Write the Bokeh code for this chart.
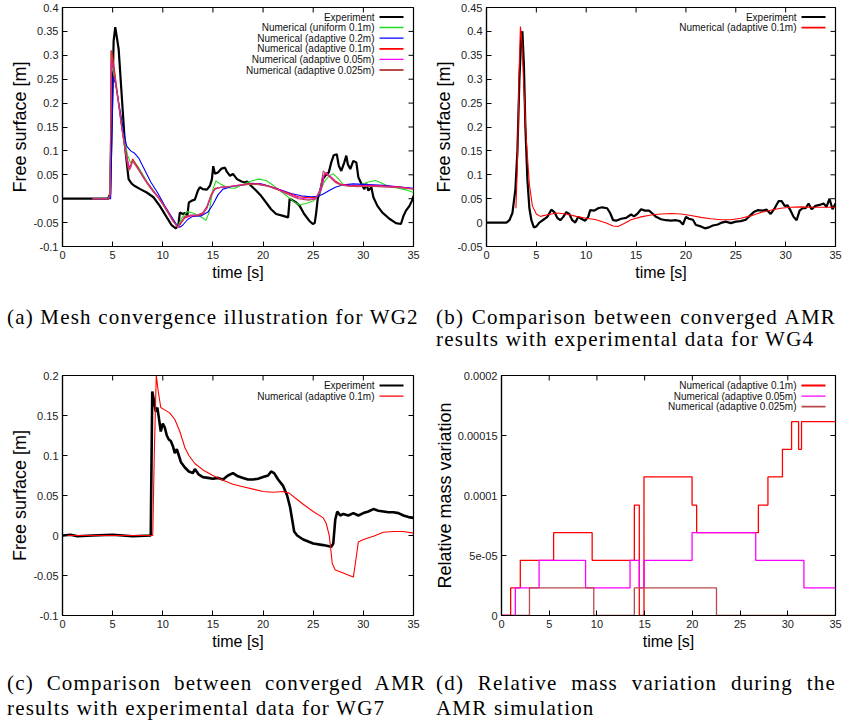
from bokeh.plotting import figure
from bokeh.models import Label, FixedTicker, Div, Range1d
from bokeh.layouts import column, row
from bokeh.embed import file_html
from bokeh.resources import INLINE

FONT = "Liberation Sans"
SERIF = "Liberation Serif"

# ---------------- data ----------------
time_ticks = [0, 5, 10, 15, 20, 25, 30, 35]

# (a) WG2 mesh convergence
a_yticks = [-0.1, -0.05, 0, 0.05, 0.1, 0.15, 0.2, 0.25, 0.3, 0.35, 0.4]
a_ylabels = ["-0.1", "-0.05", "0", "0.05", "0.1", "0.15", "0.2", "0.25", "0.3", "0.35", "0.4"]
a_exp_t = [0, 4.55, 4.75, 4.95, 5.1, 5.26, 5.6, 5.93, 6.26, 6.59, 6.92, 7.25, 7.75, 8.4, 9.07, 9.7,
           10.4, 10.9, 11.3, 11.55, 11.7, 12.0, 12.2, 12.45, 12.6, 12.9, 13.2, 13.5, 13.7, 14.0, 14.4,
           14.7, 14.9, 15.03, 15.2, 15.5, 15.86, 16.2, 16.4, 16.7, 17.0, 17.4, 17.85, 18.2, 18.4, 18.8,
           19.3, 19.8, 20.3, 20.8, 21.3, 22.0, 22.5, 22.65, 23.0, 23.3, 23.65, 24.1, 24.6, 24.96, 25.15,
           25.3, 25.45, 25.7, 25.96, 26.2, 26.55, 26.8, 27.05, 27.35, 27.55, 27.8, 28.1, 28.3, 28.45,
           28.7, 29.0, 29.3, 29.5, 29.9, 30.1, 30.3, 30.5, 30.8, 31.0, 31.4, 31.9, 32.6, 33.25, 33.75,
           34.0, 34.25, 34.6, 34.85, 35.0]
a_exp_y = [0, 0, 0.01, 0.2, 0.33, 0.359, 0.313, 0.208, 0.104, 0.041, 0.031, 0.026, 0.02, 0.013, 0.003,
           -0.015, -0.039, -0.056, -0.062, -0.056, -0.029, -0.032, -0.03, -0.035, -0.008, -0.004, -0.002,
           0.017, 0.024, 0.02, 0.019, 0.027, 0.041, 0.068, 0.052, 0.055, 0.063, 0.065, 0.056, 0.048, 0.052,
           0.041, 0.036, 0.034, 0.036, 0.027, 0.017, 0.006, -0.008, -0.022, -0.032, -0.036, -0.039, 0.0,
           -0.004, -0.008, -0.015, -0.032, -0.046, -0.053, -0.051, -0.029, 0.0, 0.017, 0.041, 0.048, 0.055,
           0.076, 0.091, 0.093, 0.069, 0.058, 0.076, 0.09, 0.072, 0.062, 0.079, 0.076, 0.045, 0.027, 0.02,
           0.031, 0.017, 0.024, 0.003, -0.015, -0.029, -0.042, -0.051, -0.053, -0.036, -0.025, -0.015,
           -0.004, 0.006]
a_uni01_t = [3.0, 4.7, 4.9, 5.3, 6.0, 6.5, 6.8, 7.1, 7.6, 8.5, 9.5, 10.5, 11.5, 11.9, 12.4, 13.0, 13.6,
             14.3, 14.6, 15.0, 15.3, 15.8, 16.5, 17.2, 18.0, 19.0, 19.6, 20.3, 21.0, 22.0, 23.0, 23.6,
             24.3, 25.0, 25.6, 26.1, 26.6, 27.0, 27.5, 28.0, 28.8, 29.5, 30.5, 31.2, 31.8, 32.5, 33.5,
             34.3, 35.0]
a_uni01_y = [0, 0, 0.28, 0.24, 0.14, 0.09, 0.075, 0.08, 0.065, 0.033, 0.005, -0.028, -0.058, -0.04,
             -0.027, -0.03, -0.035, -0.045, -0.03, 0.02, 0.037, 0.03, 0.023, 0.022, 0.03, 0.038, 0.041,
             0.038, 0.028, 0.012, -0.005, -0.013, -0.01, -0.005, 0.01, 0.035, 0.048, 0.052, 0.042, 0.03,
             0.026, 0.028, 0.035, 0.038, 0.033, 0.026, 0.022, 0.018, 0.013]
a_ad02_t = [3.0, 4.8, 5.05, 5.3, 5.7, 6.1, 6.4, 6.8, 7.2, 7.6, 8.2, 8.8, 9.5, 10.2, 10.8, 11.3, 11.7,
            12.0, 12.5, 13.0, 13.8, 14.5, 15.0, 15.5, 16.0, 16.8, 17.8, 18.8, 19.8, 20.8, 21.8, 22.8,
            23.8, 24.8, 25.5, 26.0, 26.6, 27.2, 28.0, 29.0, 30.0, 31.0, 32.0, 33.0, 34.0, 35.0]
a_ad02_y = [0, 0, 0.255, 0.24, 0.19, 0.14, 0.11, 0.1, 0.095, 0.085, 0.06, 0.035, 0.012, -0.015, -0.035,
            -0.052, -0.06, -0.055, -0.043, -0.037, -0.036, -0.028, -0.012, 0.008, 0.02, 0.025, 0.028,
            0.032, 0.031, 0.025, 0.018, 0.011, 0.006, 0.004, 0.005, 0.01, 0.017, 0.024, 0.029, 0.031,
            0.03, 0.029, 0.028, 0.026, 0.024, 0.022]
a_ad01_t = [3.0, 4.6, 4.75, 4.85, 5.0, 5.3, 5.6, 5.9, 6.2, 6.45, 6.65, 6.8, 7.0, 7.2, 7.5, 8.0, 8.5,
            9.0, 9.5, 10.0, 10.5, 11.0, 11.5, 11.8, 12.2, 12.8, 13.5, 14.0, 14.4, 14.8, 15.2, 15.8,
            16.5, 17.5, 18.5, 19.5, 20.5, 21.5, 22.5, 23.5, 24.5, 25.3, 25.8, 26.1, 26.3, 26.8, 27.2,
            27.8, 28.5, 29.5, 30.5, 31.5, 32.5, 33.5, 34.5, 35.0]
a_ad01_y = [0, 0, 0.01, 0.31, 0.3, 0.25, 0.2, 0.15, 0.11, 0.085, 0.065, 0.07, 0.083, 0.075, 0.066,
            0.048, 0.032, 0.018, 0.005, -0.01, -0.027, -0.045, -0.06, -0.052, -0.04, -0.036, -0.035,
            -0.032, -0.02, 0.005, 0.02, 0.024, 0.025, 0.028, 0.031, 0.031, 0.027, 0.02, 0.012, 0.004,
            0.002, 0.003, 0.02, 0.05, 0.052, 0.045, 0.037, 0.03, 0.028, 0.027, 0.028, 0.027, 0.026,
            0.025, 0.022, 0.021]
a_ad005_t = [3.0, 4.6, 4.75, 4.88, 5.0, 5.3, 5.6, 5.9, 6.2, 6.45, 6.7, 6.85, 7.0, 7.2, 7.5, 8.0, 8.5,
             9.0, 9.5, 10.0, 10.5, 11.0, 11.5, 11.8, 12.2, 12.8, 13.5, 14.0, 14.4, 14.8, 15.2, 15.8,
             16.5, 17.5, 18.5, 19.5, 20.5, 21.5, 22.5, 23.5, 24.5, 25.3, 25.8, 26.1, 26.3, 26.8, 27.2,
             27.8, 28.5, 29.5, 30.5, 31.5, 32.5, 33.5, 34.5, 35.0]
a_ad005_y = [0, 0, 0.01, 0.29, 0.28, 0.24, 0.195, 0.15, 0.11, 0.082, 0.062, 0.068, 0.08, 0.073,
             0.064, 0.047, 0.031, 0.017, 0.004, -0.011, -0.028, -0.046, -0.06, -0.05, -0.038, -0.035,
             -0.034, -0.03, -0.018, 0.006, 0.021, 0.024, 0.025, 0.028, 0.03, 0.03, 0.026, 0.019,
             0.01, 0.002, -0.001, 0.001, 0.02, 0.052, 0.055, 0.044, 0.035, 0.029, 0.027, 0.026,
             0.027, 0.026, 0.025, 0.024, 0.022, 0.021]
a_ad0025_t = [3.0, 4.6, 4.75, 4.85, 5.0, 5.3, 5.6, 5.9, 6.2, 6.4, 6.6, 6.8, 7.0, 7.2, 7.5, 8.0, 8.5,
              9.0, 9.5, 10.0, 10.5, 11.0, 11.5, 11.8, 12.2, 12.8, 13.5, 14.0, 14.4, 14.8, 15.2, 15.8,
              16.5, 17.5, 18.5, 19.5, 20.5, 21.5, 22.5, 23.5, 24.5, 25.2, 25.7, 26.0, 26.3, 26.8, 27.2,
              27.8, 28.5, 29.5, 30.5, 31.5, 32.5, 33.5, 34.5, 35.0]
a_ad0025_y = [0, 0, 0.01, 0.31, 0.29, 0.245, 0.2, 0.15, 0.105, 0.08, 0.058, 0.066, 0.08, 0.072,
              0.063, 0.046, 0.03, 0.016, 0.003, -0.012, -0.029, -0.047, -0.06, -0.05, -0.037, -0.034,
              -0.034, -0.029, -0.016, 0.008, 0.022, 0.024, 0.025, 0.027, 0.03, 0.03, 0.026, 0.018,
              0.009, 0.0, -0.003, -0.001, 0.02, 0.058, 0.052, 0.042, 0.034, 0.028, 0.026, 0.025,
              0.026, 0.025, 0.024, 0.023, 0.021, 0.02]

# (b) WG4
b_yticks = [-0.05, 0, 0.05, 0.1, 0.15, 0.2, 0.25, 0.3, 0.35, 0.4, 0.45]
b_ylabels = ["-0.05", "0", "0.05", "0.1", "0.15", "0.2", "0.25", "0.3", "0.35", "0.4", "0.45"]
b_exp_t = [0, 2.0, 2.3, 2.6, 2.9, 3.1, 3.3, 3.5, 3.6, 3.75, 3.9, 4.1, 4.3, 4.5, 4.75, 5.0, 5.3, 5.7,
           6.1, 6.5, 6.8, 7.1, 7.4, 7.7, 8.0, 8.3, 8.6, 8.9, 9.2, 9.5, 9.9, 10.2, 10.4, 10.8, 11.2, 11.6,
           12.1, 12.4, 12.7, 13.0, 13.5, 14.0, 14.5, 14.8, 15.2, 15.5, 15.9, 16.3, 16.7, 17.0, 17.5,
           18.0, 18.5, 19.0, 19.4, 19.7, 20.0, 20.3, 20.7, 21.0, 21.5, 21.9, 22.3, 22.7, 23.2, 23.6,
           24.0, 24.5, 25.0, 25.5, 26.0, 26.4, 26.8, 27.2, 27.7, 28.1, 28.5, 28.9, 29.3, 29.6, 29.9,
           30.2, 30.5, 30.8, 31.1, 31.4, 31.7, 32.0, 32.3, 32.6, 33.0, 33.4, 33.8, 34.1, 34.4, 34.7, 35.0]
b_exp_y = [0, 0, 0.005, 0.02, 0.07, 0.15, 0.3, 0.395, 0.4, 0.33, 0.2, 0.09, 0.03, 0.005, -0.01, -0.008,
           0.0, 0.006, 0.012, 0.027, 0.022, 0.01, 0.005, 0.012, 0.022, 0.018, 0.005, 0.0, 0.012, 0.008,
           0.004, 0.012, 0.026, 0.025, 0.03, 0.032, 0.03, 0.02, 0.005, 0.004, 0.008, 0.01, 0.017, 0.013,
           0.02, 0.028, 0.025, 0.025, 0.018, 0.012, 0.007, 0.005, 0.004, 0.005, 0.003, -0.004, 0.012,
           0.008, 0.006, -0.005, -0.008, -0.012, -0.01, -0.006, -0.004, 0.0, 0.002, -0.001, 0.002,
           0.003, 0.006, 0.014, 0.022, 0.026, 0.025, 0.027, 0.018, 0.03, 0.045, 0.045, 0.035, 0.036,
           0.025, 0.012, 0.005, 0.025, 0.03, 0.03, 0.04, 0.028, 0.035, 0.037, 0.04, 0.033, 0.05, 0.028,
           0.04]
b_num_t = [2.95, 3.1, 3.25, 3.4, 3.55, 3.75, 4.0, 4.3, 4.6, 5.0, 5.4, 6.0, 7.0, 8.0, 9.0, 10.0, 11.0,
           12.0, 12.7, 13.2, 13.8, 14.5, 15.5, 16.5, 17.5, 18.5, 19.5, 20.5, 21.5, 22.5, 23.5, 24.5,
           25.5, 26.5, 27.5, 28.5, 29.5, 30.5, 31.5, 32.5, 34.0, 35.0]
b_num_y = [0.03, 0.12, 0.3, 0.41, 0.38, 0.28, 0.17, 0.08, 0.035, 0.018, 0.013, 0.016, 0.02, 0.018,
           0.013, 0.009, 0.006, -0.001, -0.007, -0.008, -0.002, 0.006, 0.012, 0.016, 0.018, 0.019,
           0.018, 0.015, 0.011, 0.008, 0.006, 0.006, 0.009, 0.014, 0.021, 0.026, 0.03, 0.032, 0.033,
           0.032, 0.032, 0.032]

# (c) WG7
c_yticks = [-0.1, -0.05, 0, 0.05, 0.1, 0.15, 0.2]
c_ylabels = ["-0.1", "-0.05", "0", "0.05", "0.1", "0.15", "0.2"]
c_exp_t = [0, 0.8, 1.5, 3.0, 5.0, 7.0, 8.8, 8.95, 9.1, 9.3, 9.45, 9.6, 9.8, 10.0, 10.2, 10.4, 10.6,
           10.8, 11.0, 11.2, 11.4, 11.6, 11.8, 12.2, 12.6, 13.0, 13.2, 13.6, 14.0, 14.5, 15.0, 15.5,
           16.0, 16.5, 17.0, 17.5, 18.0, 18.5, 19.0, 19.5, 20.0, 20.5, 20.8, 21.1, 21.5, 22.0, 22.4,
           22.7, 22.9, 23.1, 23.4, 24.0, 25.0, 26.0, 26.8, 27.0, 27.2, 27.4, 27.7, 28.0, 28.5, 29.0,
           29.5, 30.0, 30.5, 31.0, 31.5, 32.0, 32.5, 33.0, 33.5, 34.0, 34.5, 35.0]
c_exp_y = [0, 0.001, -0.001, 0.0, 0.001, -0.001, 0.0, 0.18, 0.17, 0.155, 0.16, 0.148, 0.13, 0.14,
           0.135, 0.125, 0.12, 0.118, 0.112, 0.103, 0.108, 0.1, 0.092, 0.085, 0.08, 0.078, 0.083,
           0.076, 0.073, 0.072, 0.071, 0.072, 0.07, 0.075, 0.078, 0.074, 0.072, 0.07, 0.07, 0.071,
           0.073, 0.075, 0.08, 0.078, 0.07, 0.062, 0.05, 0.035, 0.02, 0.005, 0.0, -0.005, -0.01,
           -0.012, -0.014, -0.01, 0.02, 0.03, 0.025, 0.027, 0.025, 0.028, 0.025, 0.028, 0.03, 0.033,
           0.031, 0.03, 0.029, 0.029, 0.028, 0.025, 0.023, 0.022]
c_num_t = [0, 9.0, 9.15, 9.35, 9.55, 9.8, 10.2, 10.7, 11.2, 11.7, 12.2, 12.6, 13.2, 14.0, 15.0, 16.0,
           17.0, 18.0, 19.0, 20.0, 21.0, 22.0, 22.6, 23.3, 24.0, 25.0, 26.0, 26.3, 26.6, 26.9, 27.2,
           28.0, 28.6, 29.0, 29.2, 29.5, 30.0, 31.0, 32.0, 33.0, 34.0, 35.0]
c_num_y = [0, 0, 0.1, 0.2, 0.18, 0.16, 0.157, 0.153, 0.145, 0.13, 0.11, 0.1, 0.09, 0.082, 0.075,
           0.069, 0.064, 0.061, 0.058, 0.055, 0.054, 0.055, 0.053, 0.046, 0.039, 0.03, 0.022, 0.015,
           0.0, -0.035, -0.043, -0.047, -0.05, -0.052, -0.035, -0.008, -0.005, -0.001, 0.004, 0.005,
           0.005, 0.003]

# (d) relative mass variation (step curves)
d_yticks = [0, 5e-05, 0.0001, 0.00015, 0.0002]
d_ylabels = ["0", "5e-05", "0.0001", "0.00015", "0.0002"]
d_ad01_t = [0, 0.96, 1.97, 5.46, 9.5, 13.92, 14.44, 14.93, 19.97, 20.45, 26.92, 27.92, 29.44, 30.4,
            31.13, 31.44, 35]
d_ad01_y = [0, 2.3e-05, 4.6e-05, 6.9e-05, 4.6e-05, 9.2e-05, 0, 0.0001155, 9.2e-05, 6.9e-05, 9.2e-05,
            0.0001155, 0.0001385, 0.0001615, 0.0001385, 0.0001615, 0.0001615]
d_ad005_t = [0, 1.45, 3.94, 8.81, 13.47, 14.44, 14.93, 19.97, 26.64, 31.69, 35]
d_ad005_y = [0, 2.3e-05, 4.6e-05, 2.3e-05, 4.6e-05, 2.3e-05, 4.6e-05, 6.9e-05, 4.6e-05, 2.3e-05, 2.3e-05]
d_ad0025_t = [0, 2.93, 9.67, 13.92, 22.53, 35]
d_ad0025_y = [0, 2.3e-05, 0, 2.3e-05, 0, 0]

# ---------------- styling ----------------
C_EXP = "black"
C_GREEN = "#22dd22"
C_BLUE = "#0000ff"
C_RED = "#ff0000"
C_MAG = "#ff00ff"
C_BROWN = "#b84a4a"


def make_fig(xr, yr, w, h, bl, br, bt, bb, yticks, ylabels, ylabel):
    p = figure(width=w, height=h,
               x_range=Range1d(xr[0], xr[1]), y_range=Range1d(yr[0], yr[1]),
               output_backend="svg", toolbar_location=None,
               min_border_left=bl, min_border_right=br, min_border_top=bt, min_border_bottom=bb,
               x_axis_label="time [s]", y_axis_label=ylabel)
    p.grid.visible = False
    p.outline_line_color = "black"
    p.outline_line_width = 1.2
    p.outline_line_alpha = 1.0
    p.background_fill_color = "white"
    p.border_fill_color = "white"
    p.xaxis.ticker = FixedTicker(ticks=time_ticks)
    p.yaxis.ticker = FixedTicker(ticks=yticks)
    p.yaxis.major_label_overrides = {t: s for t, s in zip(yticks, ylabels)}
    for ax in p.xaxis + p.yaxis:
        ax.axis_line_color = "black"
        ax.axis_line_width = 1.2
        ax.major_tick_in = 5
        ax.major_tick_out = 0
        ax.minor_tick_in = 0
        ax.minor_tick_out = 0
        ax.major_tick_line_color = "black"
        ax.major_label_text_font = FONT
        ax.major_label_text_font_size = "11px"
        ax.major_label_text_color = "#222222"
        ax.major_label_standoff = 4
        ax.axis_label_text_font = FONT
        ax.axis_label_text_font_style = "normal"
        ax.axis_label_text_color = "black"
    p.xaxis.axis_label_text_font_size = "16px"
    p.yaxis.axis_label_text_font_size = "18px"
    p.xaxis.axis_label_standoff = 2
    p.yaxis.axis_label_standoff = 0
    # mirrored inward ticks on the top and right borders (gnuplot style)
    fw = w - bl - br
    fh = h - bt - bb
    sx = (xr[1] - xr[0]) / fw
    sy = (yr[1] - yr[0]) / fh
    inner_y = [t for t in yticks if yr[0] < t < yr[1]]
    inner_x = [t for t in time_ticks if xr[0] < t < xr[1]]
    p.segment(x0=inner_x, y0=[yr[1]] * len(inner_x), x1=inner_x,
              y1=[yr[1] - 5 * sy] * len(inner_x), line_color="black", line_width=1)
    p.segment(x0=[xr[1]] * len(inner_y), y0=inner_y, x1=[xr[1] - 5 * sx] * len(inner_y),
              y1=inner_y, line_color="black", line_width=1)
    return p, fw, fh


def add_key(p, xr, yr, fw, fh, labels, colors, widths, top_px=9.5, step_px=10.6):
    sx = (xr[1] - xr[0]) / fw
    sy = (yr[1] - yr[0]) / fh
    for i, (lab, c, w) in enumerate(zip(labels, colors, widths)):
        yy = yr[1] - (top_px + i * step_px) * sy
        p.add_layout(Label(x=xr[1] - 39 * sx, y=yy, text=lab, text_align="right",
                           text_baseline="middle", text_font=FONT, text_font_size="10px",
                           text_color="#111111"))
        p.line([xr[1] - 34 * sx, xr[1] - 10 * sx], [yy, yy], line_color=c, line_width=w)


# ---------------- panel (a) ----------------
XR = (0, 35)
ya = (-0.1, 0.4)
pa, fwa, fha = make_fig(XR, ya, 424, 286, 62, 11, 7, 40, a_yticks, a_ylabels, "Free surface [m]")
pa.line(a_exp_t, a_exp_y, line_color=C_EXP, line_width=2.2)
pa.line(a_uni01_t, a_uni01_y, line_color=C_GREEN, line_width=1.1)
pa.line(a_ad02_t, a_ad02_y, line_color=C_BLUE, line_width=1.1)
pa.line(a_ad01_t, a_ad01_y, line_color=C_RED, line_width=1.1)
pa.line(a_ad005_t, a_ad005_y, line_color=C_MAG, line_width=1.1)
pa.line(a_ad0025_t, a_ad0025_y, line_color=C_BROWN, line_width=1.1)
add_key(pa, XR, ya, fwa, fha,
        ["Experiment", "Numerical (uniform 0.1m)", "Numerical (adaptive 0.2m)",
         "Numerical (adaptive 0.1m)", "Numerical (adaptive 0.05m)", "Numerical (adaptive 0.025m)"],
        [C_EXP, C_GREEN, C_BLUE, C_RED, C_MAG, C_BROWN], [2.2, 1.5, 1.2, 1.8, 1.2, 1.8])

# ---------------- panel (b) ----------------
yb = (-0.05, 0.45)
pb, fwb, fhb = make_fig(XR, yb, 419, 286, 62, 8, 7, 40, b_yticks, b_ylabels, "Free surface [m]")
pb.line(b_exp_t, b_exp_y, line_color=C_EXP, line_width=2.2)
pb.line(b_num_t, b_num_y, line_color=C_RED, line_width=1.1)
add_key(pb, XR, yb, fwb, fhb, ["Experiment", "Numerical (adaptive 0.1m)"],
        [C_EXP, C_RED], [2.2, 1.6])

# ---------------- panel (c) ----------------
yc = (-0.1, 0.2)
pc, fwc, fhc = make_fig(XR, yc, 424, 294, 62, 11, 16, 38, c_yticks, c_ylabels, "Free surface [m]")
pc.line(c_exp_t, c_exp_y, line_color=C_EXP, line_width=2.6)
pc.line(c_num_t, c_num_y, line_color=C_RED, line_width=1.1)
add_key(pc, XR, yc, fwc, fhc, ["Experiment", "Numerical (adaptive 0.1m)"],
        [C_EXP, C_RED], [2.2, 1.2], top_px=10)

# ---------------- panel (d) ----------------
yd = (0, 0.0002)
pd_, fwd, fhd = make_fig(XR, yd, 419, 294, 77, 8, 16, 38, d_yticks, d_ylabels,
                         "Relative mass variation")
pd_.step(d_ad01_t, d_ad01_y, mode="after", line_color=C_RED, line_width=1.3)
pd_.step(d_ad005_t, d_ad005_y, mode="after", line_color=C_MAG, line_width=1.3)
pd_.step(d_ad0025_t, d_ad0025_y, mode="after", line_color=C_BROWN, line_width=1.3)
add_key(pd_, XR, yd, fwd, fhd,
        ["Numerical (adaptive 0.1m)", "Numerical (adaptive 0.05m)", "Numerical (adaptive 0.025m)"],
        [C_RED, C_MAG, C_BROWN], [1.8, 1.3, 1.8], top_px=10)

# ---------------- captions ----------------
CAP = f"font-family:'{SERIF}';font-size:21px;letter-spacing:1.2px;color:black;"


def caption(lines, outer_w, outer_h, inner_w, pad_left, pad_top, lh):
    parts = []
    for k, ln in enumerate(lines):
        if k == 0 and len(lines) > 1:
            align = "text-align:justify;text-align-last:justify;"
        else:
            align = "text-align:left;"
        parts.append(f'<div style="white-space:nowrap;{align}">{ln}</div>')
    html = (f'<div style="width:{inner_w}px;margin-left:{pad_left}px;padding-top:{pad_top}px;'
            f'line-height:{lh}px;{CAP}">' + "".join(parts) + "</div>")
    return Div(text=html, width=outer_w, height=outer_h)


cap_a = caption(["(a) Mesh convergence illustration for WG2"], 421, 63, 419, 2, 15, 22)
cap_b = caption(["(b) Comparison between converged AMR",
                 "results with experimental data for WG4"], 400, 63, 400, 0, 15, 22)
cap_c = caption(["(c) Comparison between converged AMR",
                 "results with experimental data for WG7"], 421, 58, 419, 2, 13, 25)
cap_d = caption(["(d) Relative mass variation during the",
                 "AMR simulation"], 400, 58, 400, 0, 13, 25)

layout = column(row(pa, pb), row(cap_a, cap_b), row(pc, pd_), row(cap_c, cap_d))

with open("out.html", "w") as f:
    f.write(file_html(layout, INLINE))
